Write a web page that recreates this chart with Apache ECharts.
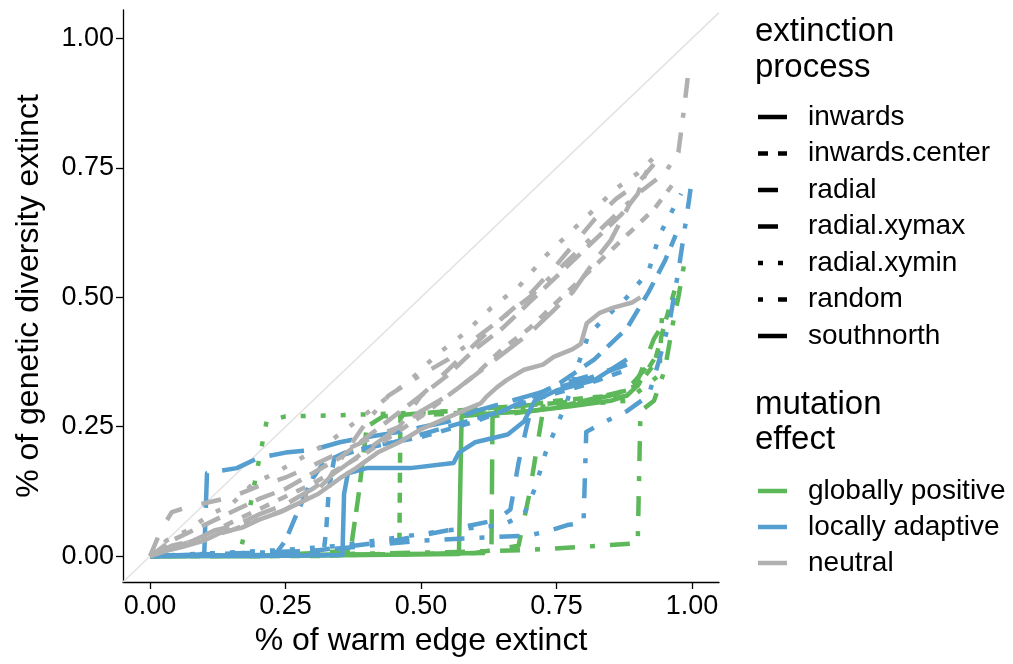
<!DOCTYPE html>
<html>
<head>
<meta charset="utf-8">
<script src="https://cdn.jsdelivr.net/npm/echarts@6/dist/echarts.min.js"></script>
<style>
  html, body { margin: 0; padding: 0; background: #fff; }
  #chart { width: 1013px; height: 664px; }
</style>
</head>
<body>
<div id="chart"></div>
<script>
// ---- categories ----
const processes = ['inwards', 'inwards.center', 'radial', 'radial.xymax', 'radial.xymin', 'random', 'southnorth'];
const effects = ['globally positive', 'locally adaptive', 'neutral'];
const tickValues = [0, 0.25, 0.5, 0.75, 1];

// ---- globally positive: [% warm edge extinct, % genetic diversity extinct] ----
const gp_inwards = [[0,0],[0.2,0],[0.4,0.002],[0.57,0.004],[0.575,0.27],[0.62,0.275],[0.7,0.28],[0.78,0.29],[0.85,0.3],[0.88,0.31]];
const gp_inwards_center = [[0,0],[0.3,0],[0.46,0.005],[0.462,0.27],[0.55,0.275],[0.65,0.285],[0.75,0.3],[0.85,0.31],[0.9,0.33],[0.93,0.37],[0.95,0.45],[0.97,0.52]];
const gp_radial = [[0,0],[0.2,0],[0.37,0.01],[0.385,0.12],[0.4,0.25],[0.43,0.27],[0.55,0.28],[0.68,0.29],[0.8,0.3],[0.88,0.32],[0.92,0.37]];
const gp_radial_xymax = [[0,0],[0.4,0.003],[0.6,0.006],[0.68,0.02],[0.7,0.12],[0.725,0.28],[0.78,0.295],[0.85,0.31],[0.9,0.34],[0.93,0.42],[0.96,0.47]];
const gp_radial_xymin = [[0,0],[0.165,0.003],[0.18,0.07],[0.2,0.18],[0.215,0.26],[0.25,0.27],[0.35,0.272],[0.46,0.276],[0.6,0.282],[0.75,0.29],[0.88,0.3],[0.94,0.35],[0.945,0.47]];
const gp_random = [[0,0],[0.3,0.003],[0.57,0.008],[0.7,0.012],[0.8,0.018],[0.9,0.025],[0.905,0.28],[0.93,0.3],[0.95,0.36],[0.965,0.45],[0.975,0.5],[0.985,0.56]];
const gp_southnorth = [[0,0],[0.3,0.002],[0.63,0.006],[0.632,0.27],[0.7,0.28],[0.8,0.295],[0.88,0.31],[0.9,0.33],[0.93,0.38]];

// ---- locally adaptive ----
const la_inwards = [[0,0],[0.2,0],[0.355,0.002],[0.358,0.12],[0.365,0.16],[0.4,0.17],[0.48,0.17],[0.56,0.18],[0.57,0.2],[0.6,0.22],[0.66,0.235],[0.69,0.26],[0.71,0.3],[0.75,0.32],[0.82,0.34],[0.88,0.38]];
const la_inwards_center = [[0,0],[0.2,0.002],[0.32,0.005],[0.325,0.05],[0.33,0.13],[0.34,0.19],[0.4,0.21],[0.5,0.23],[0.6,0.26],[0.7,0.3],[0.8,0.33],[0.88,0.36]];
const la_radial = [[0,0],[0.23,0.002],[0.25,0.03],[0.27,0.08],[0.3,0.15],[0.32,0.18],[0.36,0.2],[0.45,0.22],[0.55,0.25],[0.65,0.28],[0.75,0.33],[0.82,0.38],[0.88,0.44],[0.92,0.51],[0.95,0.57],[0.97,0.62]];
const la_radial_xymax = [[0,0],[0.3,0.01],[0.45,0.03],[0.55,0.05],[0.64,0.07],[0.665,0.09],[0.68,0.18],[0.695,0.25],[0.71,0.31],[0.75,0.33],[0.85,0.36],[0.89,0.38]];
const la_radial_xymin = [[0,0],[0.25,0.012],[0.3,0.016],[0.35,0.02],[0.45,0.035],[0.55,0.05],[0.65,0.06],[0.69,0.08],[0.71,0.13],[0.73,0.2],[0.75,0.25],[0.77,0.3],[0.79,0.37],[0.81,0.43],[0.85,0.47],[0.88,0.5],[0.92,0.55],[0.94,0.62],[0.96,0.66],[0.98,0.7]];
const la_random = [[0,0],[0.3,0.01],[0.5,0.03],[0.7,0.04],[0.74,0.05],[0.77,0.06],[0.8,0.065],[0.805,0.24],[0.85,0.265],[0.88,0.28],[0.92,0.31],[0.94,0.38],[0.96,0.46],[0.975,0.55],[0.985,0.62],[0.995,0.69],[1.0,0.73]];
const la_southnorth = [[0,0],[0.08,0.002],[0.1,0.005],[0.105,0.16],[0.13,0.165],[0.16,0.17],[0.2,0.19],[0.25,0.2],[0.3,0.205],[0.35,0.22],[0.4,0.23],[0.46,0.24],[0.55,0.26],[0.6,0.28],[0.7,0.31],[0.8,0.34],[0.88,0.37]];

// ---- neutral ----
const n_inwards = [[0,0],[0.03,0.01],[0.06,0.018],[0.1,0.03],[0.13,0.045],[0.17,0.055],[0.2,0.07],[0.24,0.085],[0.27,0.1],[0.31,0.12],[0.35,0.15],[0.38,0.17],[0.42,0.2],[0.46,0.22],[0.5,0.245],[0.55,0.268],[0.58,0.282],[0.61,0.295],[0.62,0.307],[0.64,0.326],[0.658,0.34],[0.69,0.36],[0.725,0.37],[0.745,0.385],[0.78,0.4],[0.795,0.41],[0.806,0.45],[0.83,0.47],[0.855,0.48],[0.89,0.49],[0.905,0.5]];
const n_inwards_center = [[0,0],[0.04,0.015],[0.08,0.03],[0.12,0.05],[0.16,0.07],[0.2,0.09],[0.25,0.115],[0.3,0.14],[0.35,0.17],[0.4,0.2],[0.45,0.235],[0.5,0.27],[0.55,0.31],[0.6,0.35],[0.65,0.4],[0.7,0.44],[0.75,0.49],[0.8,0.54],[0.85,0.59],[0.9,0.64],[0.93,0.67],[0.963,0.716]];
const n_radial = [[0,0],[0.04,0.03],[0.08,0.05],[0.12,0.07],[0.16,0.09],[0.2,0.11],[0.25,0.13],[0.3,0.16],[0.35,0.19],[0.4,0.23],[0.45,0.27],[0.5,0.31],[0.55,0.35],[0.6,0.4],[0.65,0.44],[0.7,0.49],[0.75,0.54],[0.8,0.59],[0.84,0.63],[0.87,0.66],[0.9,0.7],[0.917,0.745]];
const n_radial_xymax = [[0,0],[0.02,0.05],[0.04,0.085],[0.07,0.095],[0.1,0.102],[0.15,0.114],[0.2,0.135],[0.25,0.152],[0.3,0.175],[0.35,0.2],[0.4,0.224],[0.46,0.25],[0.48,0.28],[0.5,0.31],[0.55,0.36],[0.6,0.41],[0.65,0.46],[0.7,0.505],[0.74,0.55],[0.78,0.6],[0.82,0.65],[0.86,0.69],[0.9,0.72],[0.94,0.77]];
const n_radial_xymin = [[0,0],[0.03,0.03],[0.07,0.05],[0.11,0.08],[0.15,0.1],[0.19,0.14],[0.23,0.16],[0.28,0.19],[0.33,0.22],[0.38,0.26],[0.43,0.3],[0.48,0.34],[0.53,0.39],[0.58,0.43],[0.63,0.48],[0.68,0.52],[0.73,0.58],[0.78,0.63],[0.82,0.67],[0.86,0.71],[0.9,0.74],[0.93,0.77]];
const n_random = [[0,0],[0.05,0.02],[0.1,0.035],[0.15,0.05],[0.2,0.07],[0.25,0.09],[0.3,0.12],[0.33,0.15],[0.36,0.2],[0.4,0.26],[0.44,0.31],[0.5,0.35],[0.55,0.38],[0.6,0.42],[0.65,0.46],[0.7,0.5],[0.75,0.55],[0.8,0.6],[0.85,0.65],[0.9,0.7],[0.95,0.74],[0.975,0.78],[0.985,0.86],[0.993,0.93]];
const n_southnorth = [[0,0],[0.04,0.02],[0.08,0.03],[0.12,0.05],[0.16,0.06],[0.2,0.08],[0.25,0.1],[0.3,0.13],[0.34,0.16],[0.38,0.19],[0.42,0.22],[0.46,0.25],[0.5,0.28],[0.55,0.31],[0.6,0.35],[0.65,0.39],[0.7,0.43],[0.74,0.47],[0.78,0.51],[0.82,0.57],[0.85,0.61],[0.87,0.65],[0.885,0.68]];

// reference line y = x across the full panel
const identityLine = [[-0.05, -0.05], [1.05, 1.05]];

const seriesData = {
  'globally positive': [gp_inwards, gp_inwards_center, gp_radial, gp_radial_xymax, gp_radial_xymin, gp_random, gp_southnorth],
  'locally adaptive':  [la_inwards, la_inwards_center, la_radial, la_radial_xymax, la_radial_xymin, la_random, la_southnorth],
  'neutral':           [n_inwards, n_inwards_center, n_radial, n_radial_xymax, n_radial_xymin, n_random, n_southnorth]
};

// ---- styling ----
const effectColors = { 'globally positive': '#5DB85A', 'locally adaptive': '#559FD0', 'neutral': '#B0B0B0' };
const LW = 4.5;
const U = 5;  // dash unit in px
const dashPatterns = {
  'inwards': 'solid',
  'inwards.center': [2*U, 2*U],
  'radial': [4*U, 2*U],
  'radial.xymax': [4*U, 4*U],
  'radial.xymin': [1*U, 3*U],
  'random': [1*U, 3*U, 4*U, 3*U],
  'southnorth': [7*U, 3*U]
};
const FONT = '"Liberation Sans", Arial, Helvetica, sans-serif';

const series = [{
  type: 'line', data: identityLine, symbol: 'none', silent: true, z: 1,
  lineStyle: { color: '#E3E3E3', width: 1.6 }
}];
effects.forEach((eff, ei) => {
  processes.forEach((proc, pi) => {
    series.push({
      name: eff + ' / ' + proc,
      type: 'line',
      data: seriesData[eff][pi],
      symbol: 'none',
      silent: true,
      z: 2 + ei,
      lineStyle: { color: effectColors[eff], width: LW, type: dashPatterns[proc], cap: 'butt', join: 'round' }
    });
  });
});

// ---- legends drawn as graphic elements ----
const graphics = [];
function addText(txt, x, y, size) {
  graphics.push({ type: 'text', x: x, y: y, style: { text: txt, font: size + 'px ' + FONT, fill: '#000', verticalAlign: 'middle', align: 'left' } });
}
function addKey(x1, x2, y, color, dash) {
  graphics.push({ type: 'line', shape: { x1: x1, y1: y, x2: x2, y2: y },
    style: { stroke: color, lineWidth: LW, lineDash: dash === 'solid' ? null : dash, lineCap: 'butt' } });
}
addText('extinction', 755, 32, 33);
addText('process', 755, 68, 33);
const procY0 = 117, procStep = 36.5;
processes.forEach((p, i) => {
  const y = procY0 + i * procStep;
  addKey(758, 787, y, '#000', dashPatterns[p]);
  addText(p, 808, y, 28);
});
addText('mutation', 755, 405, 33);
addText('effect', 755, 440, 33);
effects.forEach((e, i) => {
  const y = 491 + i * 36;
  addKey(758, 787, y, effectColors[e], 'solid');
  addText(e, 808, y, 28);
});

const axisCommon = {
  type: 'value',
  min: -0.05,
  splitLine: { show: false },
  axisLine: { show: true, onZero: false, lineStyle: { color: '#000', width: 1.3 } },
  axisTick: { show: true, length: 7, customValues: tickValues, lineStyle: { color: '#000', width: 1.3 } },
  nameLocation: 'middle',
  nameTextStyle: { fontFamily: FONT, fontSize: 32, color: '#000' }
};

const chart = echarts.init(document.getElementById('chart'), null, { renderer: 'canvas' });
chart.setOption({
  animation: false,
  backgroundColor: '#fff',
  grid: { left: 123, right: 294, top: 10, bottom: 82, containLabel: false },
  xAxis: Object.assign({}, axisCommon, {
    max: 1.05,
    name: '% of warm edge extinct',
    nameGap: 42,
    axisLabel: { customValues: tickValues, formatter: v => v.toFixed(2), fontFamily: FONT, fontSize: 27, color: '#000', margin: 11 }
  }),
  yAxis: Object.assign({}, axisCommon, {
    max: 1.055,
    name: '% of genetic diversity extinct',
    nameGap: 78,
    axisLabel: { customValues: tickValues, formatter: v => v.toFixed(2), fontFamily: FONT, fontSize: 27, color: '#000', margin: 9 }
  }),
  series: series,
  graphic: graphics
});
</script>
</body>
</html>
